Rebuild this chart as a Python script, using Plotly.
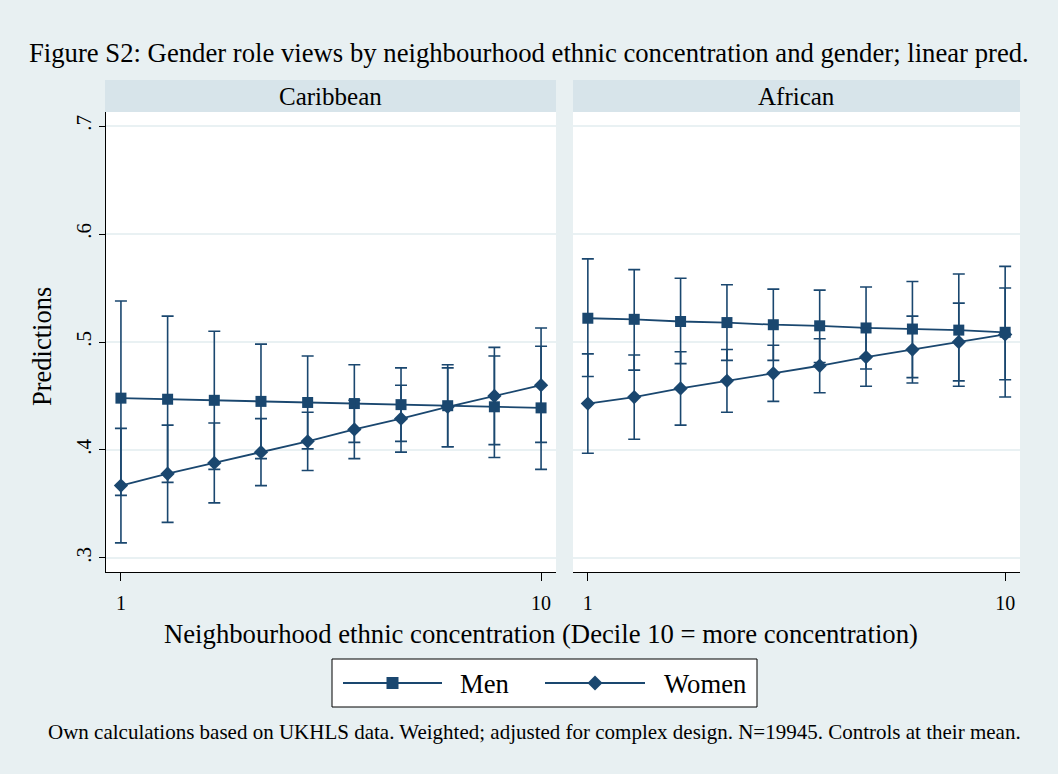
import plotly.graph_objects as go

# Neighbourhood ethnic-concentration deciles
deciles = [1, 2, 3, 4, 5, 6, 7, 8, 9, 10]

# Caribbean panel: linear predictions with confidence limits
carib_men = [0.448, 0.447, 0.446, 0.445, 0.444, 0.443, 0.442, 0.441, 0.440, 0.439]
carib_men_lo = [0.358, 0.370, 0.382, 0.392, 0.401, 0.407, 0.408, 0.403, 0.393, 0.382]
carib_men_hi = [0.538, 0.524, 0.510, 0.498, 0.487, 0.479, 0.476, 0.479, 0.487, 0.496]
carib_women = [0.367, 0.378, 0.388, 0.398, 0.408, 0.419, 0.429, 0.440, 0.450, 0.460]
carib_women_lo = [0.314, 0.333, 0.351, 0.367, 0.381, 0.392, 0.398, 0.403, 0.405, 0.407]
carib_women_hi = [0.420, 0.423, 0.425, 0.429, 0.435, 0.446, 0.460, 0.476, 0.495, 0.513]

# African panel
afr_men = [0.522, 0.521, 0.519, 0.518, 0.516, 0.515, 0.513, 0.512, 0.511, 0.509]
afr_men_lo = [0.468, 0.474, 0.480, 0.483, 0.483, 0.481, 0.475, 0.467, 0.459, 0.449]
afr_men_hi = [0.577, 0.567, 0.559, 0.553, 0.549, 0.548, 0.551, 0.556, 0.563, 0.570]
afr_women = [0.443, 0.449, 0.457, 0.464, 0.471, 0.478, 0.486, 0.493, 0.500, 0.507]
afr_women_lo = [0.397, 0.410, 0.423, 0.435, 0.445, 0.453, 0.459, 0.462, 0.464, 0.465]
afr_women_hi = [0.489, 0.488, 0.491, 0.493, 0.497, 0.503, 0.513, 0.524, 0.536, 0.550]

panel_titles = ["Caribbean", "African"]
y_tickvals = [0.3, 0.4, 0.5, 0.6, 0.7]
y_ticktext = [".3", ".4", ".5", ".6", ".7"]
x_tickvals = [1, 10]
x_ticktext = ["1", "10"]

W, H = 1058, 774
NAVY = "#1a476f"
BG = "#e8f0f2"
STRIP = "#d7e4ea"
GRID = "#e9f1f3"
FONT = "Liberation Serif, Times New Roman, serif"


def px(x):
    return x / W


def py(y):
    return 1 - y / H


fig = go.Figure()

panels = [
    ("x", "y", carib_men, carib_men_lo, carib_men_hi, carib_women, carib_women_lo, carib_women_hi),
    ("x2", "y2", afr_men, afr_men_lo, afr_men_hi, afr_women, afr_women_lo, afr_women_hi),
]

for xa, ya, m, mlo, mhi, w, wlo, whi in panels:
    for vals, lo, hi, symbol, size in [
        (m, mlo, mhi, "square", 11),
        (w, wlo, whi, "diamond", 11),
    ]:
        fig.add_trace(go.Scatter(
            x=deciles, y=vals, xaxis=xa, yaxis=ya,
            mode="lines+markers",
            line=dict(color=NAVY, width=1.8),
            marker=dict(symbol=symbol, size=size, color=NAVY, line=dict(width=0)),
            error_y=dict(
                type="data", symmetric=False,
                array=[h - v for h, v in zip(hi, vals)],
                arrayminus=[v - l for v, l in zip(vals, lo)],
                color=NAVY, thickness=1.6, width=6,
            ),
            showlegend=False, hoverinfo="skip",
        ))

xdom1 = [px(106), px(556)]
xdom2 = [px(573), px(1020)]
ydom = [py(572), py(112)]
x_range = [0.68, 10.32]
y_range = [0.287, 0.713]

common_x = dict(
    range=x_range, tickvals=x_tickvals, ticktext=x_ticktext,
    ticks="outside", ticklen=8, tickwidth=1, tickcolor="black",
    showline=True, linecolor="black", linewidth=1,
    showgrid=False, zeroline=False,
    tickfont=dict(family=FONT, size=20, color="black"),
    ticklabelstandoff=5,
)

fig.update_layout(
    width=W, height=H,
    margin=dict(l=0, r=0, t=0, b=0),
    paper_bgcolor=BG, plot_bgcolor="white",
    font=dict(family=FONT, color="black"),
    xaxis=dict(domain=xdom1, anchor="y", **common_x),
    xaxis2=dict(domain=xdom2, anchor="y2", **common_x),
    yaxis=dict(
        domain=ydom, anchor="x", range=y_range,
        tickvals=y_tickvals, ticktext=y_ticktext,
        ticks="outside", ticklen=6, tickwidth=1, tickcolor="black",
        tickangle=-90,
        showline=True, linecolor="black", linewidth=1,
        showgrid=True, gridcolor=GRID, gridwidth=2, zeroline=False,
        tickfont=dict(family=FONT, size=21, color="black"),
        ticklabelstandoff=0,
    ),
    yaxis2=dict(
        domain=ydom, anchor="x2", range=y_range, matches="y",
        tickvals=y_tickvals, showticklabels=False, ticks="",
        showline=False, showgrid=True, gridcolor=GRID, gridwidth=2, zeroline=False,
    ),
)

shapes = []
annotations = []

# Panel header strips
for dom, title in zip([(105, 556), (573, 1020)], panel_titles):
    shapes.append(dict(type="rect", xref="paper", yref="paper",
                       x0=px(dom[0]), x1=px(dom[1]), y0=py(112), y1=py(80),
                       fillcolor=STRIP, line=dict(width=0), layer="below"))
    annotations.append(dict(text=title, xref="paper", yref="paper",
                            x=px((dom[0] + dom[1]) / 2), y=py(96),
                            xanchor="center", yanchor="middle", showarrow=False,
                            font=dict(family=FONT, size=25, color="black")))

# Titles and notes
annotations += [
    dict(text="Figure S2: Gender role views by neighbourhood ethnic concentration and gender; linear pred.",
         xref="paper", yref="paper", x=px(529), y=py(53), xanchor="center", yanchor="middle",
         showarrow=False, font=dict(family=FONT, size=26.7, color="black")),
    dict(text="Neighbourhood ethnic concentration (Decile 10 = more concentration)",
         xref="paper", yref="paper", x=px(541), y=py(634), xanchor="center", yanchor="middle",
         showarrow=False, font=dict(family=FONT, size=26.7, color="black")),
    dict(text="Predictions", textangle=-90,
         xref="paper", yref="paper", x=px(42), y=py(347), xanchor="center", yanchor="middle",
         showarrow=False, font=dict(family=FONT, size=26.5, color="black")),
    dict(text="Own calculations based on UKHLS data. Weighted; adjusted for complex design. N=19945. Controls at their mean.",
         xref="paper", yref="paper", x=px(534), y=py(732), xanchor="center", yanchor="middle",
         showarrow=False, font=dict(family=FONT, size=21, color="black")),
]

# Legend box
shapes.append(dict(type="rect", xref="paper", yref="paper",
                   x0=px(332), x1=px(757), y0=py(707), y1=py(659),
                   fillcolor="white", line=dict(color="black", width=1)))
leg_y = 683
for x0, x1, label, lx, kind in [(343, 442, "Men", 458, "square"), (545, 645, "Women", 662, "diamond")]:
    shapes.append(dict(type="line", xref="paper", yref="paper",
                       x0=px(x0), x1=px(x1), y0=py(leg_y), y1=py(leg_y),
                       line=dict(color=NAVY, width=1.8)))
    cx = (x0 + x1) / 2
    if kind == "square":
        shapes.append(dict(type="rect", xref="paper", yref="paper",
                           x0=px(cx - 6), x1=px(cx + 6), y0=py(leg_y + 6), y1=py(leg_y - 6),
                           fillcolor=NAVY, line=dict(width=0)))
    else:
        d = 7.5
        path = "M {} {} L {} {} L {} {} L {} {} Z".format(
            px(cx - d), py(leg_y), px(cx), py(leg_y - d), px(cx + d), py(leg_y), px(cx), py(leg_y + d))
        shapes.append(dict(type="path", xref="paper", yref="paper", path=path,
                           fillcolor=NAVY, line=dict(width=0)))
    annotations.append(dict(text=label, xref="paper", yref="paper",
                            x=px(lx), y=py(leg_y + 1), xanchor="left", yanchor="middle",
                            showarrow=False, font=dict(family=FONT, size=26.7, color="black")))

fig.update_layout(shapes=shapes, annotations=annotations)

fig.write_html("out.html")
